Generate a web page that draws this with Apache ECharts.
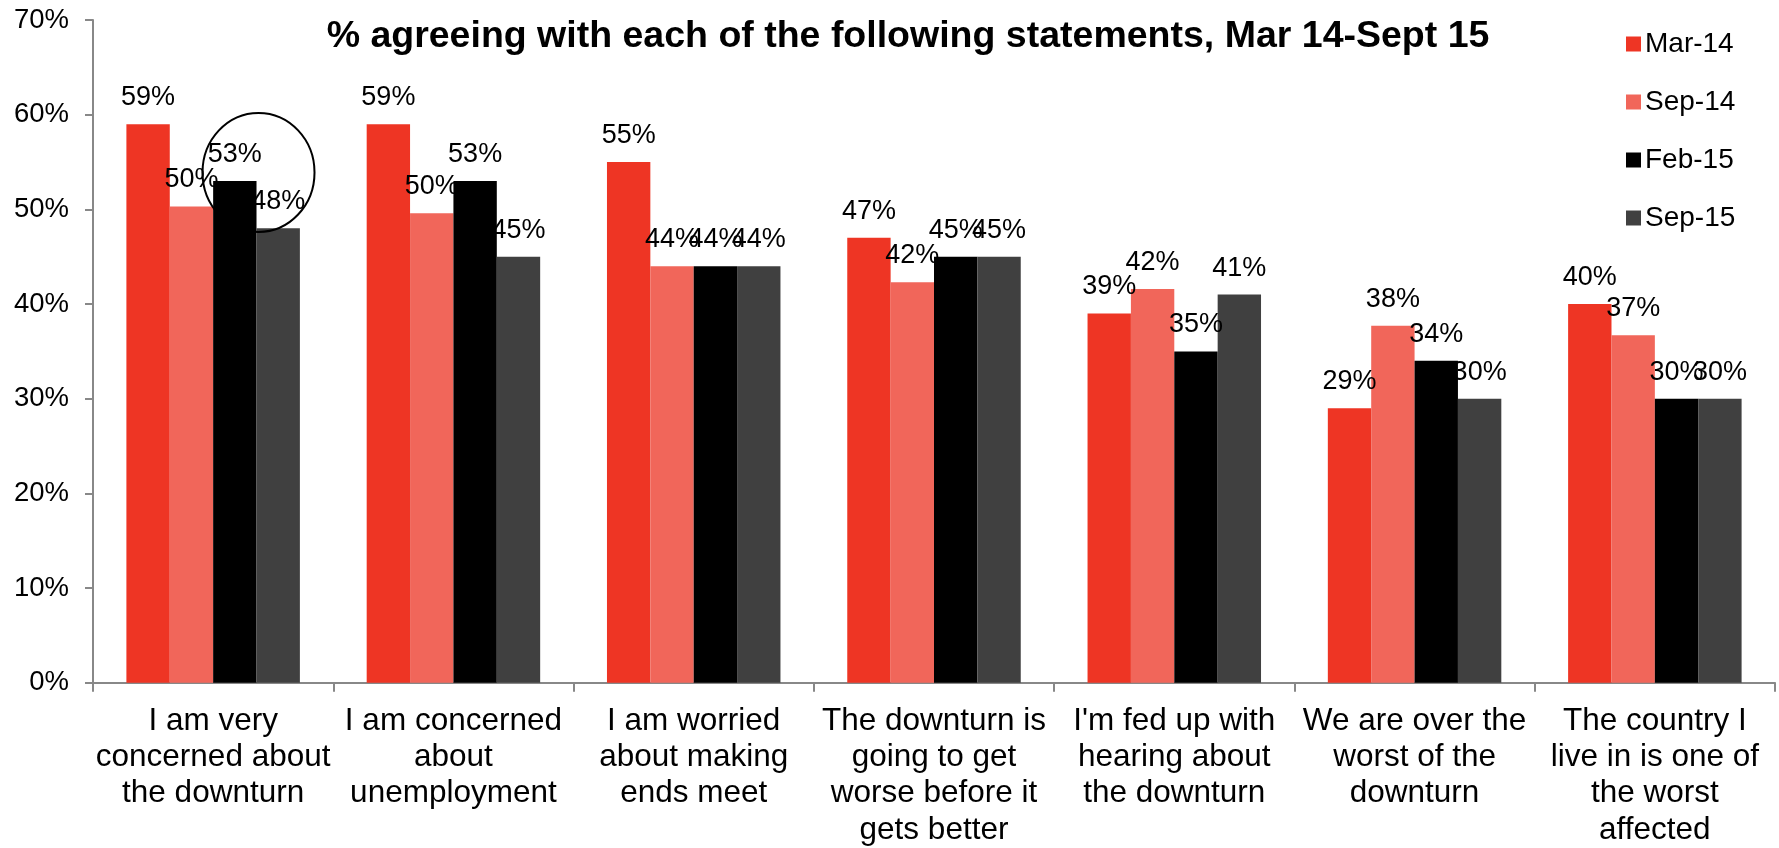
<!DOCTYPE html>
<html>
<head>
<meta charset="utf-8">
<title>% agreeing with each of the following statements, Mar 14-Sept 15</title>
<script src="https://cdn.jsdelivr.net/npm/echarts@6/dist/echarts.min.js"></script>
<style>
  html, body { margin: 0; padding: 0; background: #ffffff; }
  #chart { width: 1779px; height: 848px; }
</style>
</head>
<body>
<div id="chart"></div>
<script>
// Survey statements (x-axis categories, wrapped as printed)
const categories = [
  'I am very\nconcerned about\nthe downturn',
  'I am concerned\nabout\nunemployment',
  'I am worried\nabout making\nends meet',
  'The downturn is\ngoing to get\nworse before it\ngets better',
  "I'm fed up with\nhearing about\nthe downturn",
  'We are over the\nworst of the\ndownturn',
  'The country I\nlive in is one of\nthe worst\naffected'
];

// Survey waves (legend)
const waves = ['Mar-14', 'Sep-14', 'Feb-15', 'Sep-15'];

// % agreeing, one array per wave
const mar14 = [59, 59, 55, 47, 39, 29, 40];
const sep14 = [50.3, 49.6, 44, 42.3, 41.6, 37.7, 36.7];
const feb15 = [53, 53, 44, 45, 35, 34, 30];
const sep15 = [48, 45, 44, 45, 41, 30, 30];

// Value axis ticks
const yTicks = [0, 10, 20, 30, 40, 50, 60, 70];

const waveValues = [mar14, sep14, feb15, sep15];
const waveColors = ['#EE3524', '#F1665A', '#000000', '#404040'];
const FONT = '"Liberation Sans", Arial, Helvetica, sans-serif';
const CATEGORY_GAP = 0.278;

const chart = echarts.init(document.getElementById('chart'), null, { renderer: 'canvas' });

const series = waves.map((name, i) => ({
  name: name,
  type: 'bar',
  data: waveValues[i],
  barGap: '0%',
  barCategoryGap: (CATEGORY_GAP * 100) + '%',
  itemStyle: { color: waveColors[i] },
  label: {
    show: true,
    position: 'top',
    distance: 13,
    color: '#000000',
    fontFamily: FONT,
    fontSize: 27,
    formatter: p => Math.round(p.value) + '%'
  },
  emphasis: { disabled: true },
  animation: false
}));

chart.setOption({
  backgroundColor: '#ffffff',
  animation: false,
  title: {
    text: '% agreeing with each of the following statements, Mar 14-Sept 15',
    left: 903,
    top: 13,
    textAlign: 'center',
    textStyle: {
      fontFamily: FONT,
      fontWeight: 'bold',
      fontSize: 37.5,
      color: '#000000'
    }
  },
  legend: {
    data: waves,
    orient: 'vertical',
    left: 1621,
    top: 25,
    icon: 'rect',
    itemWidth: 15,
    itemHeight: 15,
    itemGap: 30,
    textStyle: {
      fontFamily: FONT,
      fontSize: 28,
      color: '#000000',
      lineHeight: 28,
      padding: [0, 0, 0, -1]
    },
    selectedMode: false
  },
  grid: {
    left: 93,
    right: 4,
    top: 20,
    bottom: 164.7,
    containLabel: false
  },
  xAxis: {
    type: 'category',
    data: categories,
    axisLine: { show: true, lineStyle: { color: '#888888', width: 2 } },
    axisTick: { show: true, alignWithLabel: false, length: 9, lineStyle: { color: '#888888', width: 2 } },
    axisLabel: {
      interval: 0,
      margin: 20,
      color: '#000000',
      fontFamily: FONT,
      fontSize: 31.5,
      lineHeight: 36.3,
      align: 'center'
    },
    splitLine: { show: false }
  },
  yAxis: {
    type: 'value',
    min: yTicks[0],
    max: yTicks[yTicks.length - 1],
    interval: yTicks[1] - yTicks[0],
    axisLine: { show: true, lineStyle: { color: '#888888', width: 2 } },
    axisTick: { show: true, inside: false, length: 8, lineStyle: { color: '#888888', width: 2 } },
    axisLabel: {
      margin: 24,
      color: '#000000',
      fontFamily: FONT,
      fontSize: 27.5,
      formatter: '{value}%'
    },
    splitLine: { show: false }
  },
  series: series
});

// Hand-drawn ring highlighting the Feb-15 / Sep-15 pair of the first statement
function placeHighlight() {
  const catCenter = chart.convertToPixel({ xAxisIndex: 0 }, categories[0]);
  const nextCenter = chart.convertToPixel({ xAxisIndex: 0 }, categories[1]);
  const barW = (nextCenter - catCenter) * (1 - CATEGORY_GAP) / waves.length;
  const cx = catCenter + barW + 2;
  const cy = chart.convertToPixel({ yAxisIndex: 0 }, 53.9);
  chart.setOption({
    graphic: [{
      type: 'ellipse',
      id: 'highlight',
      shape: { cx: cx, cy: cy, rx: 56, ry: 59.5 },
      style: { fill: 'none', stroke: '#000000', lineWidth: 2 },
      z: 100,
      silent: true
    }]
  });
}
placeHighlight();
</script>
</body>
</html>
